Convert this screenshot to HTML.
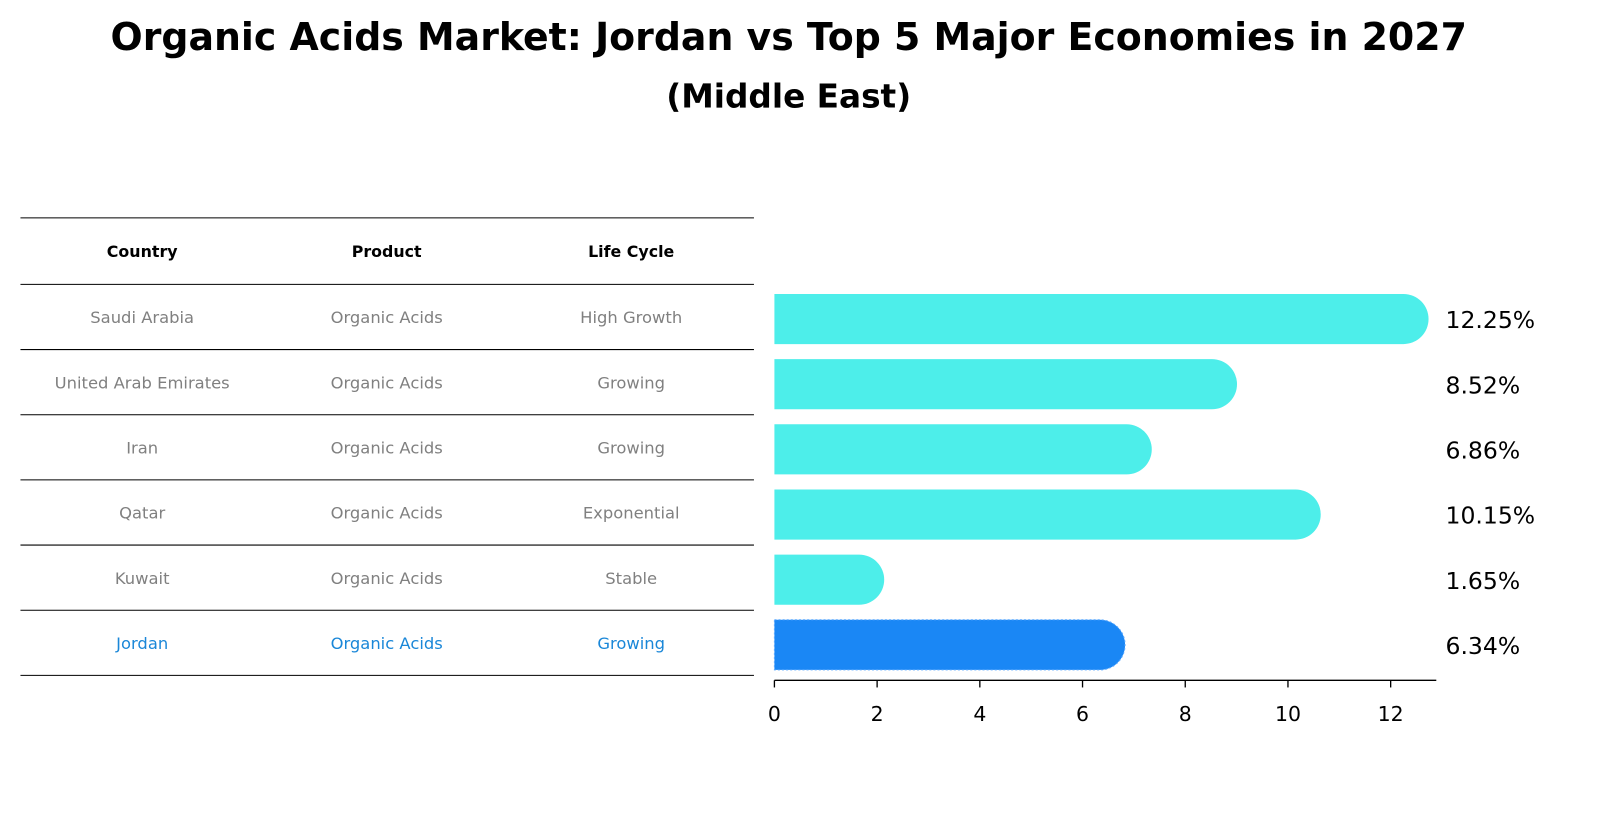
<!DOCTYPE html>
<html><head><meta charset="utf-8"><style>
body{margin:0;background:#fff;font-family:"Liberation Sans","DejaVu Sans",sans-serif;}
#wrap{position:relative;width:1604px;height:823px;overflow:hidden;}
#inner{position:absolute;left:0;top:0;width:1604px;height:823px;transform:scale(1.023);transform-origin:0 0;}
</style></head><body>
<div id="wrap">
<div id="inner">
<svg id="svg" width="1604" height="823" style="position:absolute;left:0;top:0">
<text x="771" y="49" text-anchor="middle" font-size="37" font-weight="bold" font-family="'DejaVu Sans',sans-serif">Organic Acids Market: Jordan vs Top 5 Major Economies in 2027</text>
<text x="771" y="105" text-anchor="middle" font-size="32" font-weight="bold" font-family="'DejaVu Sans',sans-serif">(Middle East)</text>
</svg>
</div>
</div>
<script>
const countries=["Saudi Arabia","United Arab Emirates","Iran","Qatar","Kuwait","Jordan"];
const products=["Organic Acids","Organic Acids","Organic Acids","Organic Acids","Organic Acids","Organic Acids"];
const lifeCycles=["High Growth","Growing","Growing","Exponential","Stable","Growing"];
const values=[12.25,8.52,6.86,10.15,1.65,6.34];
const valueLabels=["12.25%","8.52%","6.86%","10.15%","1.65%","6.34%"];
const xTicks=[0,2,4,6,8,10,12];
const highlight="Jordan";

const svg=document.getElementById('svg');
const NS="http://www.w3.org/2000/svg";
function mk(tag,attrs){const e=document.createElementNS(NS,tag);for(const k in attrs)e.setAttribute(k,attrs[k]);svg.appendChild(e);return e;}
const x0=757,pxPerUnit=50.2;
function xs(v){return x0+v*pxPerUnit;}
const rowTop=278,rowH=63.7;
function yc(i){return rowTop+rowH*i+rowH/2;}
const font="'DejaVu Sans',sans-serif";

const colX=[139,378,617];
const lineYs=[213];
for(let i=0;i<=countries.length;i++)lineYs.push(rowTop+rowH*i);
lineYs.forEach((y,i)=>{
 const l=mk('line',{x1:20,x2:737,y1:y,y2:y,stroke:'#000','stroke-width':1});
 
 
});
["Country","Product","Life Cycle"].forEach((h,j)=>{
 const t=mk('text',{x:colX[j],y:251,'text-anchor':'middle','font-size':15.5,'font-weight':'bold','font-family':font});
 t.textContent=h;
 
 
});
countries.forEach((c,i)=>{
 const col=c===highlight?'#1a87d8':'#808080';
 [c,products[i],lifeCycles[i]].forEach((v,j)=>{
  const t=mk('text',{x:colX[j],y:yc(i)+6,'text-anchor':'middle','font-size':16,fill:col,'font-family':font});
  t.textContent=v;
  
  
 });
});

const bh=49,r=24.5;
values.forEach((v,i)=>{
 const hl=countries[i]===highlight;
 const col=hl?'#1a87f5':'#4deeea';
 const y=yc(i)+2;
 const p=mk('path',{d:`M${x0} ${y-bh/2} H${xs(v)} A${r} ${r} 0 0 1 ${xs(v)} ${y+bh/2} H${x0} Z`,fill:col});
 if(hl){p.setAttribute('stroke','#5aa8ff');p.setAttribute('stroke-dasharray','2 2');}
 
 
 const t=mk('text',{x:1413,y:y+9,'font-size':23,'font-family':font});
 t.textContent=valueLabels[i];
 
 
});

const ax=mk('line',{x1:x0,x2:1404,y1:665,y2:665,stroke:'#000','stroke-width':1.3});


xTicks.forEach(v=>{
 const tk=mk('line',{x1:xs(v),x2:xs(v),y1:665,y2:672,stroke:'#000','stroke-width':1.3});
 
 
 const t=mk('text',{x:xs(v),y:705,'text-anchor':'middle','font-size':20,'font-family':font});
 t.textContent=v;
 
 
});
</script>
</body></html>
